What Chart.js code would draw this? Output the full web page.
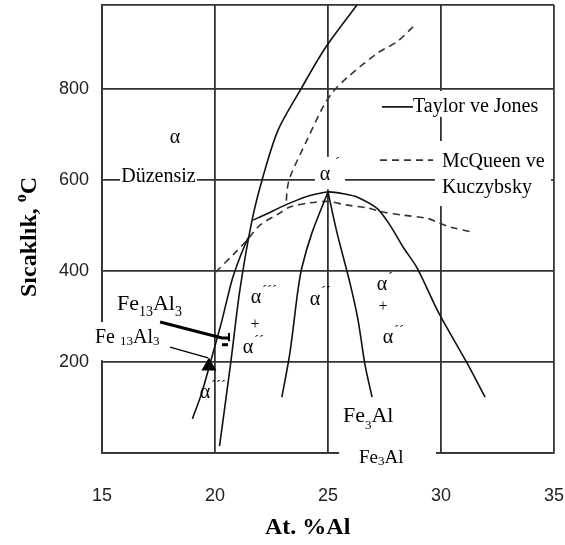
<!DOCTYPE html>
<html lang="tr">
<head>
<meta charset="utf-8">
<title>Fe-Al faz diyagramı</title>
<script src="https://cdn.jsdelivr.net/npm/chart.js@4.4.1/dist/chart.umd.min.js"></script>
<style>
  body { margin: 0; background: #fff; }
  #grafik { display: block; }
</style>
</head>
<body>
<canvas id="grafik" width="565" height="545"></canvas>
<script>
// Eksenler
const xEtiketleri = [15, 20, 25, 30, 35];
const yEtiketleri = [200, 400, 600, 800];
const yUst = 985;

// Taylor ve Jones (düz çizgiler)
const tjAlfaX = [20.2, 20.7, 21.1, 21.64, 22.12, 22.79, 23.8, 24.87, 26.28];
const tjAlfaY = [15, 200, 358, 512, 607, 710, 800, 890, 985];
const tjSolX = [19.0, 19.4, 19.8, 20.3, 20.75, 21.1, 21.46];
const tjSolY = [75, 130, 200, 290, 380, 430, 473];
const tjKubbeX = [21.68, 22.3, 22.88, 23.63, 24.2, 25, 25.8, 26.28, 27.17, 27.74, 28.32, 28.94, 29.9, 31.15, 31.95];
const tjKubbeY = [512, 526, 540, 556, 566, 574, 569, 563, 538, 501, 453, 407, 308, 198, 123];
const tjFe3AlSolX = [25, 24.29, 23.85, 23.67, 23.32, 22.96];
const tjFe3AlSolY = [574, 484, 409, 358, 222, 123];
const tjFe3AlSagX = [25, 25.4, 25.97, 26.33, 26.64, 26.95];
const tjFe3AlSagY = [574, 484, 374, 292, 193, 123];

// McQueen ve Kuczybsky (kesikli çizgiler)
const mkAlfaX = [28.76, 28.05, 27.21, 25.84, 25.22, 24.78, 24.07, 23.32, 23.19, 23.15];
const mkAlfaY = [937, 904, 880, 825, 794, 761, 688, 607, 578, 545];
const mkKubbeX = [20.04, 20.88, 21.42, 21.99, 22.88, 23.32, 24.2, 25, 25.84, 26.73, 27.43, 28.32, 29.38, 29.82, 30.4, 31.37];
const mkKubbeY = [398, 440, 468, 501, 528, 541, 550, 553, 545, 539, 530, 523, 516, 508, 497, 486];

// Fe13Al3 noktası
const fe13al3X = [19.73];
const fe13al3Y = [191];

const noktalar = (xs, ys) => xs.map((x, i) => ({ x: x, y: ys[i] }));

const duz = (xs, ys) => ({
    data: noktalar(xs, ys),
    showLine: true,
    borderColor: '#111',
    borderWidth: 1.6,
    pointRadius: 0,
    tension: 0.3
});
const kesikli = (xs, ys) => Object.assign(duz(xs, ys), { borderColor: '#333', borderDash: [7, 5] });

const SERIF = '"Liberation Serif", "Times New Roman", serif';

// yazılar, oklar ve açıklama
const etiketler = {
    id: 'etiketler',
    afterDatasetsDraw(chart) {
        const ctx = chart.ctx;
        const sx = chart.scales.x, sy = chart.scales.y;
        const px = v => sx.getPixelForValue(v);
        const py = v => sy.getPixelForValue(v);
        ctx.save();

        const kutu = (x0, y0, x1, y1) => {
            ctx.fillStyle = '#fff';
            ctx.fillRect(px(x0), py(y0), px(x1) - px(x0), py(y1) - py(y0));
        };
        kutu(15.8, 627, 19.2, 587);
        kutu(24.42, 651, 25.75, 580);
        kutu(28.67, 796, 34.87, 739);
        kutu(29.73, 686, 34.87, 543);
        kutu(14.6, 288, 18.1, 204);
        kutu(25.49, 28.6, 29.78, -37.4);

        ctx.fillStyle = '#000';
        ctx.strokeStyle = '#000';

        const yazi = (parcalar, x, y) => {
            ctx.textAlign = 'left';
            ctx.textBaseline = 'alphabetic';
            let cx = px(x);
            for (const [t, boyut, kayma] of parcalar) {
                ctx.font = boyut + 'px ' + SERIF;
                ctx.fillText(t, cx, py(y) + kayma);
                cx += ctx.measureText(t).width;
            }
        };
        const alfa = (x, y, us, dx = 6, dy = -7) => {
            ctx.font = '20px ' + SERIF;
            ctx.textAlign = 'center';
            ctx.textBaseline = 'middle';
            ctx.fillText('α', px(x), py(y));
            if (us) {
                ctx.font = '15px ' + SERIF;
                ctx.textAlign = 'left';
                ctx.fillText('´'.repeat(us), px(x) + dx, py(y) + dy);
            }
        };
        const arti = (x, y) => {
            ctx.font = '16px ' + SERIF;
            ctx.textAlign = 'center';
            ctx.textBaseline = 'middle';
            ctx.fillText('+', px(x), py(y));
        };

        alfa(18.23, 693, 0);
        alfa(24.87, 611, 1, 10, -12);
        alfa(21.81, 341, 3);
        arti(21.77, 281);
        alfa(21.46, 231, 2);
        alfa(24.42, 338, 2);
        alfa(27.39, 369, 1);
        arti(27.43, 321);
        alfa(27.65, 253, 2);
        alfa(19.56, 132, 3);

        ctx.font = '20px ' + SERIF;
        ctx.textAlign = 'center';
        ctx.textBaseline = 'middle';
        ctx.fillText('Düzensiz', px(17.5), py(607));

        // açıklama
        ctx.lineWidth = 1.6;
        ctx.beginPath();
        ctx.moveTo(px(27.39), py(761));
        ctx.lineTo(px(28.76), py(761));
        ctx.stroke();
        ctx.strokeStyle = '#333';
        ctx.setLineDash([7, 5]);
        ctx.beginPath();
        ctx.moveTo(px(27.3), py(644));
        ctx.lineTo(px(29.65), py(644));
        ctx.stroke();
        ctx.setLineDash([]);
        ctx.strokeStyle = '#000';
        ctx.textAlign = 'left';
        ctx.fillText('Taylor ve Jones', px(28.76), py(761));
        ctx.fillText('McQueen ve', px(30.04), py(640));
        ctx.fillText('Kuczybsky', px(30.04), py(583));

        // faz adları
        yazi([['Fe', 22, 0], ['13', 14, 6], ['Al', 22, 0], ['3', 14, 6]], 15.66, 314);
        yazi([['Fe ', 20, 0], ['13', 13, 2], ['Al', 20, 0], ['3', 13, 2]], 14.69, 242);
        yazi([['Fe', 22, 0], ['3', 13, 7], ['Al', 22, 0]], 25.66, 68);
        yazi([['Fe', 19, 0], ['3', 13, 2], ['Al', 19, 0]], 26.37, -22);

        // oklar
        ctx.lineWidth = 3;
        ctx.beginPath();
        ctx.moveTo(px(17.57), py(288));
        ctx.lineTo(px(20.31), py(253));
        ctx.lineTo(px(20.62), py(253));
        ctx.stroke();
        ctx.lineWidth = 2;
        ctx.beginPath();
        ctx.moveTo(px(20.62), py(264));
        ctx.lineTo(px(20.62), py(246));
        ctx.stroke();
        ctx.fillRect(px(20.44) - 3, py(237) - 2, 6, 3);
        ctx.lineWidth = 1.3;
        ctx.beginPath();
        ctx.moveTo(px(18.01), py(233));
        ctx.lineTo(px(19.69), py(209));
        ctx.stroke();

        // eksen başlıkları
        const a = chart.chartArea;
        ctx.font = 'bold 24px ' + SERIF;
        ctx.textAlign = 'center';
        ctx.textBaseline = 'middle';
        ctx.fillText('At. %Al', px(24.1), a.bottom + 75);

        ctx.translate(a.left - 74, py(475));
        ctx.rotate(-Math.PI / 2);
        ctx.textAlign = 'left';
        ctx.textBaseline = 'alphabetic';
        const ana = 'Sıcaklık, ';
        ctx.font = 'bold 24px ' + SERIF;
        const w1 = ctx.measureText(ana).width;
        const w3 = ctx.measureText('C').width;
        ctx.font = 'bold 16px ' + SERIF;
        const w2 = ctx.measureText('o').width;
        let cx = -(w1 + w2 + w3) / 2;
        ctx.font = 'bold 24px ' + SERIF;
        ctx.fillText(ana, cx, 8);
        cx += w1;
        ctx.font = 'bold 16px ' + SERIF;
        ctx.fillText('o', cx, -2);
        cx += w2;
        ctx.font = 'bold 24px ' + SERIF;
        ctx.fillText('C', cx, 8);

        ctx.restore();
    }
};

const izgara = { color: '#333', lineWidth: 1.8, drawTicks: false };
const kenar = { color: '#333', width: 1.8 };

new Chart(document.querySelector('#grafik'), {
    type: 'scatter',
    data: {
        datasets: [
            duz(tjAlfaX, tjAlfaY),
            duz(tjSolX, tjSolY),
            duz(tjKubbeX, tjKubbeY),
            duz(tjFe3AlSolX, tjFe3AlSolY),
            duz(tjFe3AlSagX, tjFe3AlSagY),
            kesikli(mkAlfaX, mkAlfaY),
            kesikli(mkKubbeX, mkKubbeY),
            {
                data: noktalar(fe13al3X, fe13al3Y),
                pointStyle: 'triangle',
                pointRadius: 8.7,
                backgroundColor: '#000',
                borderColor: '#000',
                borderWidth: 0,
                showLine: false
            }
        ]
    },
    options: {
        responsive: false,
        animation: false,
        layout: { autoPadding: false, padding: { top: 5, right: 11, left: 0, bottom: 0 } },
        plugins: { legend: { display: false }, tooltip: { enabled: false } },
        scales: {
            x: {
                type: 'linear',
                min: 15,
                max: 35,
                afterBuildTicks: s => { s.ticks = xEtiketleri.map(v => ({ value: v })); },
                afterFit: s => {
                    s.height = 92;
                    s.paddingLeft = 0;
                    s.paddingRight = 0;
                },
                grid: izgara,
                border: kenar,
                ticks: {
                    padding: 32,
                    autoSkip: false,
                    maxRotation: 0,
                    color: '#222',
                    font: { family: 'Liberation Sans', size: 18 }
                }
            },
            y: {
                type: 'linear',
                min: 0,
                max: yUst,
                afterBuildTicks: s => { s.ticks = [0, ...yEtiketleri, yUst].map(v => ({ value: v })); },
                afterFit: s => {
                    s.width = 102;
                    s.paddingTop = 0;
                    s.paddingBottom = 0;
                },
                grid: izgara,
                border: kenar,
                ticks: {
                    padding: 13,
                    autoSkip: false,
                    color: '#222',
                    font: { family: 'Liberation Sans', size: 18 },
                    callback: v => yEtiketleri.includes(v) ? String(v) : ''
                }
            }
        }
    },
    plugins: [etiketler]
});
</script>
</body>
</html>
